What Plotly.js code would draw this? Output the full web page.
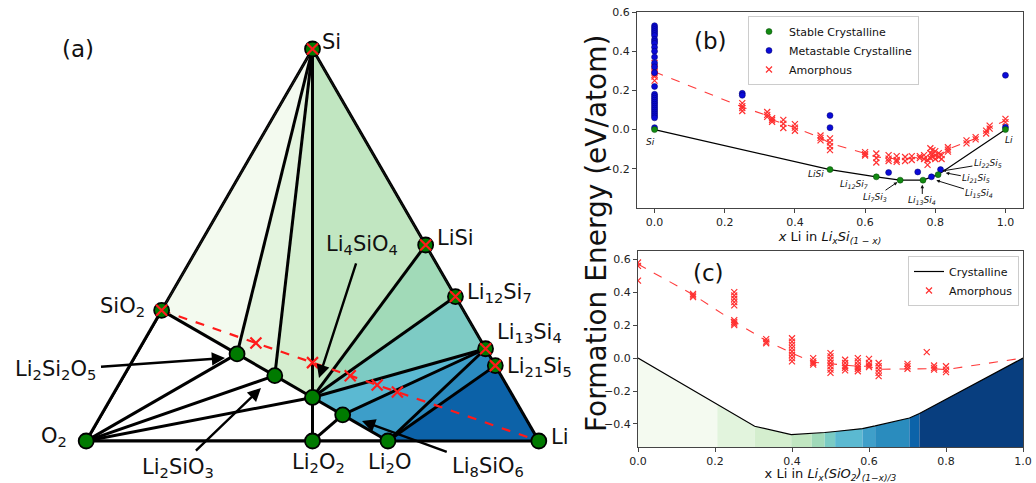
<!DOCTYPE html>
<html><head><meta charset="utf-8">
<script src="https://cdn.plot.ly/plotly-3.0.1.min.js"></script>
<style>html,body{margin:0;padding:0;background:#fff}#chart{width:1036px;height:483px}</style>
</head><body><div id="chart"></div>
<script>
// ===== Panel (a): Li-Si-O ternary, phase compositions (atom fractions) =====
const phaseNames = ['Si','O2','Li','SiO2','Li2Si2O5','Li2SiO3','Li4SiO4','Li2O2','Li2O','Li8SiO6','LiSi','Li12Si7','Li13Si4','Li21Si5'];
const phaseSi = [1, 0, 0, 1/3, 2/9, 1/6, 1/9, 0,   0,   1/15, 1/2, 7/19,  4/17,  5/26];
const phaseO  = [0, 1, 0, 2/3, 5/9, 3/6, 4/9, 1/2, 1/3, 6/15, 0,   0,     0,     0];
const phaseLi = [0, 0, 1, 0,   2/9, 2/6, 4/9, 1/2, 2/3, 8/15, 1/2, 12/19, 13/17, 21/26];

const tieLines = [
  ['O2','Si'],['Si','Li'],['O2','Li'],
  ['SiO2','Li2Si2O5'],['Li2Si2O5','Li2SiO3'],['Li2SiO3','Li4SiO4'],['Li4SiO4','Li8SiO6'],['Li8SiO6','Li2O'],
  ['Si','Li2Si2O5'],['Si','Li2SiO3'],['Si','Li2O2'],
  ['Li4SiO4','LiSi'],['Li4SiO4','Li12Si7'],['Li4SiO4','Li13Si4'],
  ['Li8SiO6','Li13Si4'],['Li2O','Li13Si4'],['Li2O','Li21Si5'],
  ['O2','Li2Si2O5'],['O2','Li2SiO3'],['O2','Li4SiO4'],['Li2O2','Li8SiO6']
];
const regions = [
  ['Si','SiO2','Li2Si2O5'], ['Si','Li2Si2O5','Li2SiO3'], ['Si','Li2SiO3','Li4SiO4'], ['Si','Li4SiO4','LiSi'],
  ['LiSi','Li4SiO4','Li12Si7'], ['Li12Si7','Li4SiO4','Li13Si4'], ['Li13Si4','Li4SiO4','Li8SiO6'],
  ['Li13Si4','Li8SiO6','Li2O'], ['Li13Si4','Li2O','Li21Si5'], ['Li21Si5','Li2O','Li']
];
const amorphPhases = ['Si','SiO2','LiSi','Li12Si7','Li13Si4','Li21Si5'];
const amorphLineLi = [0.25, 0.4, 0.5, 4/7, 5/8];   // Li_x(SiO2)_(1-x)/3 compositions on dashed line

// ===== Panel (b): Li_x Si_(1-x) =====
const bStableX = [0, 0.5, 0.632, 0.7, 0.765, 0.808, 1.0];
const bStableY = [0, -0.204, -0.241, -0.258, -0.258, -0.230, 0];
const bMetaX = [0,0,0,0,0,0,0,0,0,0,0,0,0,0,0,0,0,0,0,0,0,0,0,0,0,0,0,0,0,0,
                0.25,0.25,0.5,0.5,0.667,0.75,0.789,0.815,1.0,1.0];
const bMetaY = [0.53,0.52,0.51,0.50,0.49,0.48,0.46,0.45,0.44,0.42,0.40,0.37,0.34,0.32,0.29,0.22,0.18,0.17,0.16,0.15,0.14,0.13,0.12,0.11,0.10,0.09,0.08,0.07,0.06,0.01,
                0.185,0.175,0.072,0.01,-0.219,-0.216,-0.241,-0.204,0.277,0.012];
const bAmorphX = [0,0,0,0,0,0,0,0, 0.25,0.25,0.25,0.25, 0.321,0.321,0.321, 0.335,0.335,0.335, 0.367,0.367,0.367,
                  0.4,0.4,0.4, 0.473,0.473,0.473, 0.5,0.5,0.5,0.5, 0.6,0.6,0.6, 0.632,0.632,0.632, 0.667,0.667,0.667,
                  0.69,0.69,0.69, 0.714,0.714, 0.733,0.733, 0.756,0.756, 0.768,0.768, 0.778,0.778, 0.786,0.786,0.786,
                  0.792,0.792,0.792, 0.8,0.8,0.8, 0.81,0.81, 0.818,0.818, 0.836,0.836,0.836, 0.889,0.889, 0.915,0.915,
                  0.945,0.945, 0.955,0.955, 1.0,1.0];
const bAmorphY = [0.34,0.32,0.31,0.30,0.29,0.28,0.27,0.25, 0.135,0.12,0.11,0.095, 0.09,0.075,0.065, 0.058,0.05,0.04, 0.05,0.03,0.008,
                  0.028,0.01,-0.006, -0.03,-0.042,-0.055, -0.045,-0.065,-0.085,-0.105, -0.115,-0.125,-0.132, -0.122,-0.145,-0.168, -0.13,-0.148,-0.16,
                  -0.135,-0.155,-0.165, -0.14,-0.16, -0.135,-0.155, -0.135,-0.145, -0.13,-0.15, -0.155,-0.18, -0.095,-0.12,-0.145,
                  -0.105,-0.125,-0.14, -0.11,-0.13,-0.15, -0.12,-0.14, -0.13,-0.15, -0.09,-0.102,-0.112, -0.055,-0.07, -0.038,-0.05,
                  -0.005,-0.02, 0.02,0.005, 0.055,0.038];
const bMeanX = [0,0.25,0.321,0.335,0.367,0.4,0.473,0.5,0.6,0.632,0.667,0.69,0.714,0.733,0.756,0.768,0.778,0.786,0.8,0.81,0.836,0.889,0.915,0.945,0.955,1.0];
const bMeanY = [0.295,0.115,0.072,0.05,0.03,0.01,-0.042,-0.07,-0.122,-0.14,-0.145,-0.15,-0.15,-0.145,-0.14,-0.14,-0.165,-0.125,-0.13,-0.13,-0.1,-0.062,-0.045,-0.012,0.012,0.045];

// ===== Panel (c): Li_x (SiO2)_(1-x)/3 =====
const cHullX = [0, 0.206, 0.303, 0.398, 0.451, 0.485, 0.512, 0.583, 0.616, 0.705, 0.731, 1.0];
const cHullY = [0, -0.283, -0.414, -0.465, -0.459, -0.452, -0.446, -0.428, -0.412, -0.364, -0.337, 0];
const cAmorphX = [0,0,0, 0.143,0.143,0.143, 0.25,0.25,0.25,0.25,0.25,0.25,0.25,0.25,0.25, 0.333,0.333,0.333,
                  0.4,0.4,0.4,0.4,0.4,0.4,0.4,0.4, 0.455,0.455,0.455,0.455, 0.5,0.5,0.5,0.5,0.5,0.5,0.5,
                  0.538,0.538,0.538,0.538,0.538, 0.571,0.571,0.571,0.571,0.571,0.571, 0.6,0.6,0.6,0.6,
                  0.625,0.625,0.625,0.625,0.625, 0.7,0.7,0.7, 0.75, 0.769,0.769,0.769, 0.8,0.8,0.8];
const cAmorphY = [0.58,0.56,0.47, 0.39,0.38,0.37, 0.40,0.38,0.36,0.34,0.32,0.23,0.22,0.21,0.20, 0.115,0.10,0.09,
                  0.12,0.10,0.08,0.06,0.04,0.02,0.0,-0.02, 0.0,-0.02,-0.03,-0.04, 0.03,0.01,-0.01,-0.03,-0.05,-0.07,-0.09,
                  -0.01,-0.03,-0.05,-0.06,-0.075, 0.0,-0.02,-0.04,-0.055,-0.065,-0.08, -0.005,-0.03,-0.045,-0.055,
                  -0.03,-0.05,-0.07,-0.09,-0.11, -0.035,-0.05,-0.065, 0.036, -0.045,-0.06,-0.07, -0.05,-0.07,-0.085];
const cMeanX = [0,0.143,0.25,0.333,0.4,0.455,0.5,0.538,0.571,0.6,0.625,0.7,0.769,0.8,1.0];
const cMeanY = [0.57,0.385,0.222,0.105,0.03,-0.025,-0.035,-0.045,-0.05,-0.05,-0.068,-0.066,-0.065,-0.07,0.0];

// ===== styles =====
const regionColors = ['#f3faef','#e3f4de','#d4eecf','#c1e6c1','#a1dab8','#7dcbc4','#5bb9d2','#3d9ec9','#2a8abf','#0c62a8'];
const bandColors = ['#f4faf0','#e2f4dd','#d4eece','#c1e6c1','#a0d9b9','#7acbc4','#5bb9d1','#3f9fc9','#2a8cbe','#0c63a9','#083e7f'];
const FONT = 'DejaVu Sans, Liberation Sans, sans-serif';
const W = 1036, H = 483;
const px = v => v / W, py = v => 1 - v / H;
const yMinC = -0.54, yMaxC = 0.65;

const idx = n => phaseNames.indexOf(n);
const traces = [];

// regions (a)
regions.forEach((r, i) => {
  const pts = r.concat([r[0]]);
  traces.push({type:'scatterternary', mode:'lines', fill:'toself', fillcolor: regionColors[i], cliponaxis:false,
    a: pts.map(n => phaseSi[idx(n)]), b: pts.map(n => phaseO[idx(n)]), c: pts.map(n => phaseLi[idx(n)]),
    line:{width:0, color:'rgba(0,0,0,0)'}, showlegend:false, hoverinfo:'skip'});
});
// tie lines (a)
tieLines.forEach(t => {
  traces.push({type:'scatterternary', mode:'lines', cliponaxis:false,
    a: t.map(n => phaseSi[idx(n)]), b: t.map(n => phaseO[idx(n)]), c: t.map(n => phaseLi[idx(n)]),
    line:{width:3, color:'#000'}, showlegend:false, hoverinfo:'skip'});
});
// dashed line SiO2 -> Li
traces.push({type:'scatterternary', mode:'lines', cliponaxis:false,
  a:[phaseSi[idx('SiO2')], phaseSi[idx('Li')]], b:[phaseO[idx('SiO2')], phaseO[idx('Li')]], c:[phaseLi[idx('SiO2')], phaseLi[idx('Li')]],
  line:{width:2.2, color:'#ff1a1a', dash:'dash'}, showlegend:false, hoverinfo:'skip'});
// phase points
traces.push({type:'scatterternary', mode:'markers', cliponaxis:false,
  a: phaseSi, b: phaseO, c: phaseLi,
  marker:{size:15, color:'#007a00', line:{color:'#000', width:1.8}}, showlegend:false, hoverinfo:'skip'});
// amorphous x markers in ternary
traces.push({type:'scatterternary', mode:'markers', cliponaxis:false,
  a: amorphPhases.map(n => phaseSi[idx(n)]).concat(amorphLineLi.map(x => (1 - x) / 3)),
  b: amorphPhases.map(n => phaseO[idx(n)]).concat(amorphLineLi.map(x => 2 * (1 - x) / 3)),
  c: amorphPhases.map(n => phaseLi[idx(n)]).concat(amorphLineLi),
  marker:{symbol:'x-thin', size:11, color:'#ff1a1a', line:{color:'#ff1a1a', width:2.2}}, showlegend:false, hoverinfo:'skip'});

// ===== panel (b) traces =====
traces.push({type:'scatter', mode:'lines', x:bStableX, y:bStableY, xaxis:'x', yaxis:'y',
  line:{color:'#000', width:1.2}, showlegend:false, hoverinfo:'skip'});
traces.push({type:'scatter', mode:'lines', x:bMeanX, y:bMeanY, xaxis:'x', yaxis:'y',
  line:{color:'#ff3b3b', width:1.1, dash:'dash'}, showlegend:false, hoverinfo:'skip'});
traces.push({type:'scatter', mode:'markers', x:bAmorphX, y:bAmorphY, xaxis:'x', yaxis:'y', name:'Amorphous',
  marker:{symbol:'x-thin', size:6, color:'#ff3030', line:{color:'#ff3030', width:1.2}}, legend:'legend', legendrank:3});
traces.push({type:'scatter', mode:'markers', x:bMetaX, y:bMetaY, xaxis:'x', yaxis:'y', name:'Metastable Crystalline',
  marker:{size:6, color:'#0a0ad8', line:{color:'#000066', width:0.5}}, legend:'legend', legendrank:2});
traces.push({type:'scatter', mode:'markers', x:bStableX, y:bStableY, xaxis:'x', yaxis:'y', name:'Stable Crystalline',
  marker:{size:6, color:'#128a12', line:{color:'#064406', width:0.5}}, legend:'legend', legendrank:1});

// ===== panel (c) traces =====
for (let i = 0; i < cHullX.length - 1; i++) {
  traces.push({type:'scatter', mode:'lines', xaxis:'x2', yaxis:'y2', fill:'toself', fillcolor: bandColors[i],
    x:[cHullX[i], cHullX[i], cHullX[i+1], cHullX[i+1]], y:[yMinC, cHullY[i], cHullY[i+1], yMinC],
    line:{width:0, color:'rgba(0,0,0,0)'}, showlegend:false, hoverinfo:'skip'});
}
traces.push({type:'scatter', mode:'lines', x:cHullX, y:cHullY, xaxis:'x2', yaxis:'y2', name:'Crystalline',
  line:{color:'#000', width:1.2}, legend:'legend2', legendrank:1});
traces.push({type:'scatter', mode:'lines', x:cMeanX, y:cMeanY, xaxis:'x2', yaxis:'y2',
  line:{color:'#ff3b3b', width:1.1, dash:'dash'}, showlegend:false, hoverinfo:'skip'});
traces.push({type:'scatter', mode:'markers', x:cAmorphX, y:cAmorphY, xaxis:'x2', yaxis:'y2', name:'Amorphous',
  marker:{symbol:'x-thin', size:6, color:'#ff3030', line:{color:'#ff3030', width:1.2}}, legend:'legend2', legendrank:2});

// ===== annotations =====
const ann = [];
const aFont = {family:FONT, size:21, color:'#111'};
function lab(text, x, y, xanchor) { ann.push({text, xref:'paper', yref:'paper', x:px(x), y:py(y), xanchor:xanchor||'center', yanchor:'middle', showarrow:false, font:aFont}); }
function arr(text, tx, ty, hx, hy) { ann.push({text, xref:'paper', yref:'paper', x:px(hx), y:py(hy), ax:tx-hx, ay:ty-hy,
  showarrow:true, arrowhead:2, arrowsize:1.1, arrowwidth:2.4, arrowcolor:'#000', font:aFont, standoff:0, startstandoff:4}); }
function big(text, x, y) { ann.push({text, xref:'paper', yref:'paper', x:px(x), y:py(y), xanchor:'center', yanchor:'middle',
  showarrow:false, font:{family:FONT, size:23, color:'#111'}}); }
big('(a)', 78, 49);
lab('Si', 320, 42, 'left');
lab('SiO<sub>2</sub>', 147, 307, 'right');
lab('LiSi', 435, 238, 'left');
lab('Li<sub>12</sub>Si<sub>7</sub>', 465, 293, 'left');
lab('Li<sub>13</sub>Si<sub>4</sub>', 495, 333, 'left');
lab('Li<sub>21</sub>Si<sub>5</sub>', 505, 367, 'left');
lab('Li', 549, 437, 'left');
lab('O<sub>2</sub>', 69, 437, 'right');
lab('Li<sub>2</sub>O<sub>2</sub>', 318, 463);
lab('Li<sub>2</sub>O', 389, 463);
arr('Li<sub>4</sub>SiO<sub>4</sub>', 362, 245, 319, 378);
arr('Li<sub>2</sub>Si<sub>2</sub>O<sub>5</sub>', 55, 370, 225, 358);
arr('Li<sub>2</sub>SiO<sub>3</sub>', 178, 468, 261, 388);
arr('Li<sub>8</sub>SiO<sub>6</sub>', 488, 467, 362, 421);

// panel titles
big('(b)', 710, 41);
big('(c)', 708, 273);
ann.push({text:'Formation Energy (eV/atom)', xref:'paper', yref:'paper', x:px(596), y:py(234), xanchor:'center', yanchor:'middle',
  textangle:-90, showarrow:false, font:{family:FONT, size:28, color:'#111'}});

// panel (b) labels
const sFont = {family:FONT, size:9, color:'#111'};
function bl(text, x, y) { ann.push({text:'<i>'+text+'</i>', xref:'x', yref:'y', x, y, showarrow:false, font:sFont}); }
function ba(text, tx, ty, hx, hy) { ann.push({text:'<i>'+text+'</i>', xref:'x', yref:'y', axref:'x', ayref:'y', x:hx, y:hy, ax:tx, ay:ty,
  showarrow:true, arrowhead:2, arrowsize:0.7, arrowwidth:1, arrowcolor:'#111', standoff:0, font:sFont}); }
bl('Si', -0.011, -0.063);
bl('LiSi', 0.46, -0.228);
bl('Li<sub>12</sub>Si<sub>7</sub>', 0.567, -0.279);
bl('Li', 1.009, -0.051);
ba('Li<sub>7</sub>Si<sub>3</sub>', 0.629, -0.345, 0.692, -0.268);
ba('Li<sub>13</sub>Si<sub>4</sub>', 0.763, -0.364, 0.763, -0.282);
ba('Li<sub>15</sub>Si<sub>4</sub>', 0.926, -0.327, 0.803, -0.259);
ba('Li<sub>21</sub>Si<sub>5</sub>', 0.917, -0.25, 0.83, -0.221);
ba('Li<sub>22</sub>Si<sub>5</sub>', 0.95, -0.173, 0.82, -0.211);

const axStyle = {showline:true, mirror:true, linecolor:'#444', linewidth:1, ticks:'outside', ticklen:4, tickcolor:'#444',
  showgrid:false, zeroline:false, tickfont:{family:FONT, size:11, color:'#222'}, tickformat:'.1f'};
const ternAx = {showline:true, linecolor:'#000', linewidth:3, layer:'below traces', showgrid:false, showticklabels:false, ticks:'', title:{text:''}};

const layout = {
  width:W, height:H, margin:{l:0, r:0, t:0, b:0}, paper_bgcolor:'#fff', plot_bgcolor:'rgba(0,0,0,0)',
  hovermode:false, font:{family:FONT},
  ternary:{sum:1, domain:{x:[px(86), px(539)], y:[py(441), py(49)]}, bgcolor:'rgba(0,0,0,0)',
    aaxis:ternAx, baxis:ternAx, caxis:ternAx},
  xaxis: Object.assign({}, axStyle, {domain:[px(637), px(1023)], range:[-0.05, 1.05], anchor:'y', tickvals:[0,0.2,0.4,0.6,0.8,1.0],
    title:{text:'<i>x</i> Li in <i>Li<sub>x</sub>Si<sub>(1 − x)</sub></i>', font:{family:FONT, size:13, color:'#111'}, standoff:3}}),
  yaxis: Object.assign({}, axStyle, {domain:[py(208), py(12)], range:[-0.4, 0.6], anchor:'x', tickvals:[-0.2,0,0.2,0.4,0.6]}),
  xaxis2: Object.assign({}, axStyle, {domain:[px(638), px(1023)], range:[0, 1], anchor:'y2', tickvals:[0,0.2,0.4,0.6,0.8,1.0],
    title:{text:'x Li in <i>Li<sub>x</sub>(SiO<sub>2</sub>)<sub>(1−x)/3</sub></i>', font:{family:FONT, size:13, color:'#111'}, standoff:3}}),
  yaxis2: Object.assign({}, axStyle, {domain:[py(447), py(251)], range:[yMinC, yMaxC], anchor:'x2', tickvals:[-0.4,-0.2,0,0.2,0.4,0.6]}),
  legend:{x:px(748), y:py(16), xanchor:'left', yanchor:'top', bgcolor:'#fff', bordercolor:'#ccc', borderwidth:1,
    font:{family:FONT, size:11, color:'#111'}, tracegroupgap:0, traceorder:'normal'},
  legend2:{x:px(1019), y:py(256), xanchor:'right', yanchor:'top', bgcolor:'#fff', bordercolor:'#ccc', borderwidth:1,
    font:{family:FONT, size:11, color:'#111'}, tracegroupgap:0, traceorder:'normal'},
  annotations: ann
};
Plotly.newPlot('chart', traces, layout, {staticPlot:true, displayModeBar:false});
</script>
</body></html>
